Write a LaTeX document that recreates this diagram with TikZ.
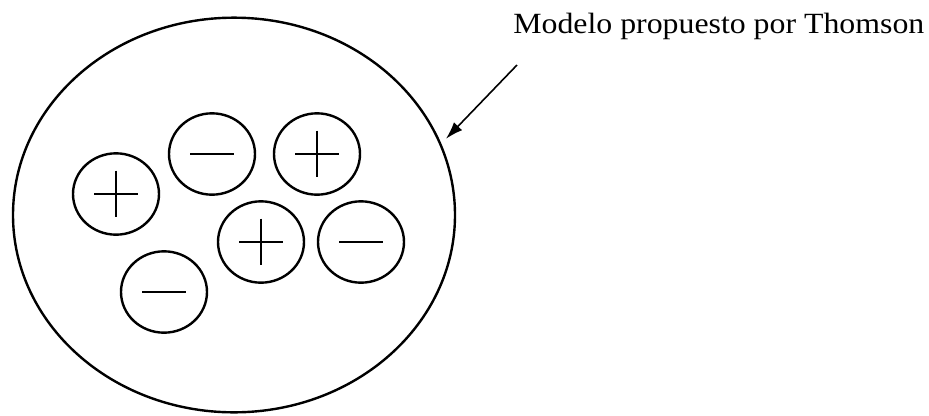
\documentclass[tikz,border=0pt]{standalone}
\usepackage{fontspec}
\setmainfont{Liberation Serif}
\usetikzlibrary{shapes.geometric, arrows.meta, positioning}

\begin{document}
\begin{tikzpicture}[x=0.75pt, y=-0.75pt,%
  atom/.style={draw, ellipse, line width=1.8pt, minimum width=331.5pt, minimum height=296pt, inner sep=0pt},%
  charge/.style={draw, ellipse, line width=1.8pt, minimum width=64.5pt, minimum height=61pt, inner sep=0pt},%
  poscharge/.style={charge, path picture={%
    \draw[line width=1.8pt] ([xshift=-16.5pt]path picture bounding box.center) -- ([xshift=16.5pt]path picture bounding box.center);
    \draw[line width=1.8pt] ([yshift=17.5pt]path picture bounding box.center) -- ([yshift=-17.5pt]path picture bounding box.center);}},%
  negcharge/.style={charge, path picture={%
    \draw[line width=1.8pt] ([xshift=-16.5pt]path picture bounding box.center) -- ([xshift=16.5pt]path picture bounding box.center);}},%
  pointer/.style={line width=1.2pt, -{Latex[length=13pt, width=8.5pt]}, shorten >=5pt},%
  caption/.style={font=\fontsize{22}{26}\selectfont, inner sep=0pt, xscale=1.085, transform shape}%
]
  \useasboundingbox (0,0) rectangle (929,415);
  % atomo
  \node[atom] (atom) at (234,215) {};
  % cargas
  \node[poscharge] (p1) at (116,194) {};
  \node[negcharge] (n1) at (212,154) {};
  \node[poscharge] (p2) at (317,154) {};
  \node[poscharge] (p3) at (261,242) {};
  \node[negcharge] (n2) at (361,242) {};
  \node[negcharge] (n3) at (164,292) {};
  % etiqueta
  \node[caption, anchor=base west] (label) at (513,33) {Modelo propuesto por Thomson};
  \coordinate (tail) at (517,65);
  \draw[pointer] (tail) -- (atom.19.4);
\end{tikzpicture}
\end{document}
